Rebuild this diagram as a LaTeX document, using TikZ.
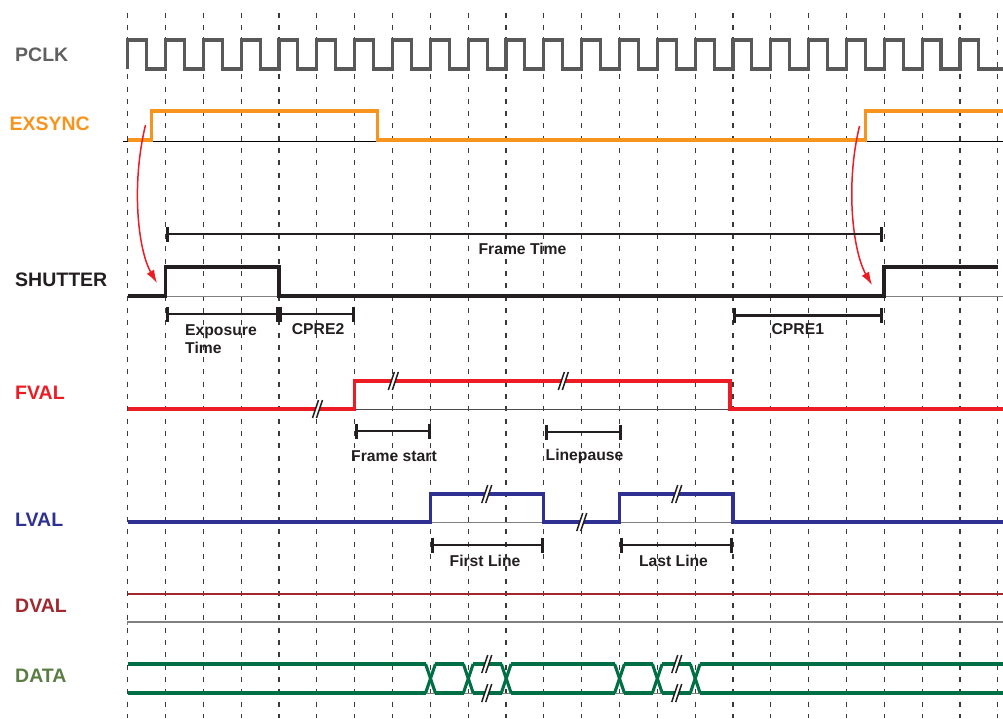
\documentclass[tikz,border=0pt]{standalone}
\usepackage{fontspec}
\setmainfont{Liberation Sans}
\usetikzlibrary{arrows.meta}
\definecolor{gridc}{HTML}{3A3A3A}
\definecolor{pclkc}{HTML}{595959}
\definecolor{pclkl}{HTML}{606060}
\definecolor{exsc}{HTML}{F7941D}
\definecolor{fvalc}{HTML}{ED1C24}
\definecolor{lvalc}{HTML}{2E3192}
\definecolor{dvalc}{HTML}{A0282E}
\definecolor{datac}{HTML}{006F46}
\definecolor{datal}{HTML}{5A7D43}
\definecolor{textc}{HTML}{231F20}
\definecolor{arrc}{HTML}{ED1C24}
\newcommand{\brkmark}[2]{%
  \fill[white] (#1-5,#2+9) -- (#1-1,#2+9) -- (#1+5,#2-9) -- (#1+1,#2-9) -- cycle;
  \draw[brkline] (#1-5,#2+9) -- (#1+1,#2-9) (#1-1,#2+9) -- (#1+5,#2-9);}
\begin{document}
\begin{tikzpicture}[x=1pt,y=-1pt,
  gridline/.style={draw=gridc, line width=1.1pt, dash pattern=on 5pt off 7.3pt},
  sig/.style={line width=3.1pt, line join=miter},
  baseln/.style={line width=1pt},
  brkline/.style={draw=textc, line width=1.5pt},
  timebar/.style={draw=textc, line width=2.9pt, arrows={Bar[width=15pt]-Bar[width=15pt]}},
  bigl/.style={anchor=base west, inner sep=0pt, font=\fontsize{19.5}{20}\selectfont\bfseries},
  smalll/.style={anchor=base, inner sep=0pt, text=textc, font=\fontsize{15.7}{17}\selectfont\bfseries},
  redarr/.style={draw=arrc, line width=1.5pt, -{Latex[length=13pt,width=8.5pt]}}
]
\useasboundingbox (0,0) rectangle (1003,718);

% grid
\foreach \i in {0,...,23} {
  \draw[gridline] ({127.7+37.83*\i},12.7) -- ({127.7+37.83*\i},718);
}

% labels
\node[bigl, text=pclkl] (lpclk) at (15,61) {PCLK};
\node[bigl, text=exsc] (lexs) at (9.3,130) {EXSYNC};
\node[bigl, text=textc] (lshut) at (15,286.7) {SHUTTER};
\node[bigl, text=fvalc] (lfval) at (15,399) {FVAL};
\node[bigl, text=lvalc] (llval) at (15,526) {LVAL};
\node[bigl, text=dvalc] (ldval) at (15,612.3) {DVAL};
\node[bigl, text=datal] (ldata) at (15,682.7) {DATA};

% PCLK
\draw[sig, draw=pclkc] (127.7,69)
  \foreach \i in {0,...,22} { -- ({127.7+37.83*\i},69) -- ({127.7+37.83*\i},40) -- ({146.6+37.83*\i},40) -- ({146.6+37.83*\i},69) }
  -- (1003,69);

% EXSYNC
\draw[baseln, draw=black] (123,141) -- (1003,141);
\draw[sig, draw=exsc] (127.7,140) -- (151.7,140) -- (151.7,111) -- (377.7,111) -- (377.7,140) -- (865.7,140) -- (865.7,111) -- (1003,111);

% SHUTTER
\draw[baseln, draw=gray] (127.7,296) -- (1003,296);
\draw[sig, draw=textc] (127.7,296) -- (165.7,296) -- (165.7,267) -- (279,267) -- (279,296) -- (884,296) -- (884,267) -- (998,267);

% red arrows
\coordinate (a1s) at (145.5,125);
\coordinate (a1e) at (157,283);
\coordinate (a2s) at (859.5,126);
\coordinate (a2e) at (872,285);
\draw[redarr] (a1s) .. controls (131,185) and (138,250) .. (a1e);
\draw[redarr] (a2s) .. controls (845,186) and (853,252) .. (a2e);

% time bars
\draw[timebar] (166,234) -- (883,234);
\node[smalll] (tframe) at (522.5,254) {Frame Time};
\draw[timebar] (166,314) -- (279,314);
\draw[timebar] (279,314) -- (355,314);
\node[smalll, anchor=base west] (texp1) at (185,335.3) {Exposure};
\node[smalll, anchor=base west] (texp2) at (185,353.3) {Time};
\node[smalll, anchor=base west] (tcpre2) at (291.7,334.7) {CPRE2};
\draw[timebar] (733,315.5) -- (883,315.5);
\node[smalll] (tcpre1) at (797.8,334.7) {CPRE1};

% FVAL
\draw[baseln, draw=gray!60!black] (127.7,409) -- (1003,409);
\draw[sig, draw=fvalc] (127.7,409) -- (354.7,409) -- (354.7,381) -- (730,381) -- (730,409) -- (1003,409);
\brkmark{317.5}{409}
\brkmark{393.3}{381}
\brkmark{563.3}{381}
\draw[timebar] (355,431) -- (431,431);
\node[smalll] (tfs) at (394,461.6) {Frame start};
\draw[timebar] (545,432) -- (621.5,432);
\node[smalll] (tlp) at (584.5,460.6) {Linepause};

% LVAL
\draw[baseln, draw=gray] (127.7,522) -- (1003,522);
\draw[sig, draw=lvalc] (127.7,522) -- (430.5,522) -- (430.5,494) -- (543.8,494) -- (543.8,522) -- (619.5,522) -- (619.5,494) -- (733,494) -- (733,522) -- (1003,522);
\brkmark{486.7}{494}
\brkmark{581.7}{522}
\brkmark{676.7}{494}
\draw[timebar] (431,545) -- (544,545);
\node[smalll] (tfl) at (485,566.3) {First Line};
\draw[timebar] (620,545) -- (733,545);
\node[smalll] (tll) at (673.5,566.5) {Last Line};

% DVAL
\draw[sig, draw=dvalc, line width=2.8pt] (127.7,594) -- (1003,594);
\draw[line width=1.5pt, draw=gray] (127.7,625) -- (127.7,622) -- (1003,622);

% DATA
\draw[baseln, draw=gray] (127.7,693.5) -- (1003,693.5);
\foreach \a/\b in {127.7/425.8, 435.2/463.6, 473/501.5, 510.9/614.8, 624.2/652.6, 662/690.5, 699.9/1003} {
  \draw[sig, draw=datac] (\a,664) -- (\b,664);
  \draw[sig, draw=datac] (\a,693) -- (\b,693);
}
\foreach \c in {430.5,468.3,506.2,619.5,657.3,695.2} {
  \draw[sig, draw=datac] ({\c-4.9},664) -- ({\c+4.9},693);
  \draw[sig, draw=datac] ({\c-4.9},693) -- ({\c+4.9},664);
}
\brkmark{486.7}{664}
\brkmark{486.7}{693}
\brkmark{676.7}{664}
\brkmark{676.7}{693}
\end{tikzpicture}
\end{document}
